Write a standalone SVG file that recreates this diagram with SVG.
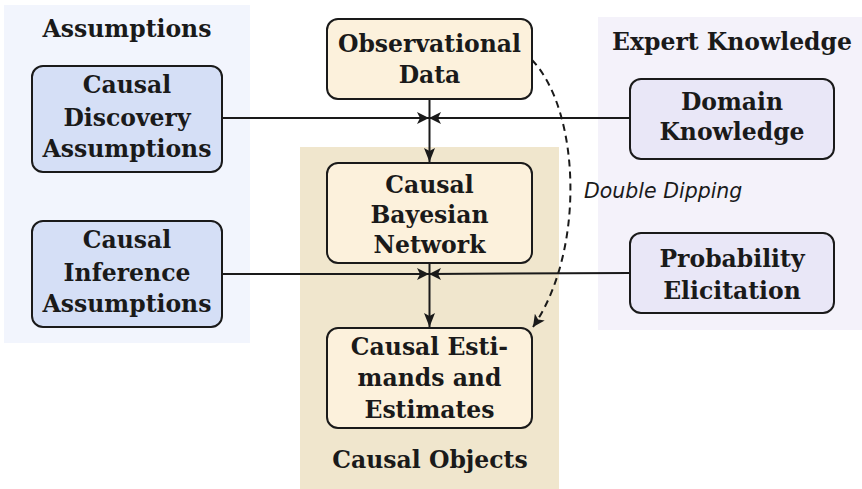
<svg xmlns="http://www.w3.org/2000/svg" width="862" height="489" viewBox="0 0 862 489">
<style>
.t{font-family:"DejaVu Serif","Liberation Serif",serif;font-weight:bold;font-size:23.5px;fill:#1a1a1a;text-anchor:middle}
.box{stroke:#1a1a1a;stroke-width:2}
.blue{fill:#D5DFF6}
.yel{fill:#FCF1DC}
.lav{fill:#E9E7F7}
.con{fill:none;stroke:#1a1a1a;stroke-width:2}
.dip{font-family:"DejaVu Sans","Liberation Sans",sans-serif;font-style:italic;font-size:20.5px;fill:#1a1a1a}
</style>
<defs>
<marker id="ah" viewBox="0 0 14 11" refX="14" refY="5.5" markerWidth="14" markerHeight="11" markerUnits="userSpaceOnUse" orient="auto">
<path d="M0,0 L14,5.5 L0,11 L3,5.5 Z" fill="#1a1a1a"/>
</marker>
<marker id="ahs" viewBox="0 0 12 12" refX="12" refY="6" markerWidth="12" markerHeight="12" markerUnits="userSpaceOnUse" orient="auto">
<path d="M0,0 L12,6 L0,12 L3,6 Z" fill="#1a1a1a"/>
</marker>
</defs>
<rect width="862" height="489" fill="#ffffff"/>
<g id="panel-assumptions">
<rect x="4" y="5" width="246" height="338" fill="#F2F5FD"/>
<text class="t" x="127" y="37">Assumptions</text>
</g>
<g id="panel-expert">
<rect x="598" y="17" width="264" height="313" fill="#F4F2FA"/>
<text class="t" x="732" y="50">Expert Knowledge</text>
</g>
<g id="panel-objects">
<rect x="300" y="147" width="259" height="342" fill="#F0E6CD"/>
<text class="t" x="430" y="468">Causal Objects</text>
</g>
<g id="connectors">
<path class="con" d="M222,118 L429,118" marker-end="url(#ahs)"/>
<path class="con" d="M630,118 L429,118" marker-end="url(#ahs)"/>
<path class="con" d="M429.5,99 L429.5,162" marker-end="url(#ah)"/>
<path class="con" d="M222,274 L429,274" marker-end="url(#ahs)"/>
<path class="con" d="M630,273 L429,274" marker-end="url(#ahs)"/>
<path class="con" d="M429.5,263 L429.5,327" marker-end="url(#ah)"/>
<path class="con" d="M532,60 C580,110 586,250 533,327" stroke-dasharray="7,5" marker-end="url(#ahs)"/>
<text class="dip" x="584" y="198">Double Dipping</text>
</g>
<g id="node-discovery">
<rect class="box blue" x="32" y="66" width="190" height="106" rx="11"/>
<text class="t" x="127" y="93">Causal</text>
<text class="t" x="127" y="126">Discovery</text>
<text class="t" x="127" y="157">Assumptions</text>
</g>
<g id="node-inference">
<rect class="box blue" x="32" y="221" width="190" height="106" rx="11"/>
<text class="t" x="127" y="248">Causal</text>
<text class="t" x="127" y="281">Inference</text>
<text class="t" x="127" y="312">Assumptions</text>
</g>
<g id="node-observational">
<rect class="box yel" x="327" y="19" width="205" height="80" rx="11"/>
<text class="t" x="429.5" y="52">Observational</text>
<text class="t" x="429.5" y="83">Data</text>
</g>
<g id="node-cbn">
<rect class="box yel" x="327" y="163" width="205" height="100" rx="11"/>
<text class="t" x="429.5" y="193">Causal</text>
<text class="t" x="429.5" y="223">Bayesian</text>
<text class="t" x="429.5" y="253">Network</text>
</g>
<g id="node-estimands">
<rect class="box yel" x="327" y="328" width="205" height="100" rx="11"/>
<text class="t" x="429.5" y="355">Causal Esti-</text>
<text class="t" x="429.5" y="386">mands and</text>
<text class="t" x="429.5" y="418">Estimates</text>
</g>
<g id="node-domain">
<rect class="box lav" x="630" y="79" width="204" height="80" rx="11"/>
<text class="t" x="732" y="110">Domain</text>
<text class="t" x="732" y="140">Knowledge</text>
</g>
<g id="node-elicitation">
<rect class="box lav" x="630" y="233" width="204" height="80" rx="11"/>
<text class="t" x="732" y="267">Probability</text>
<text class="t" x="732" y="299">Elicitation</text>
</g>
</svg>
